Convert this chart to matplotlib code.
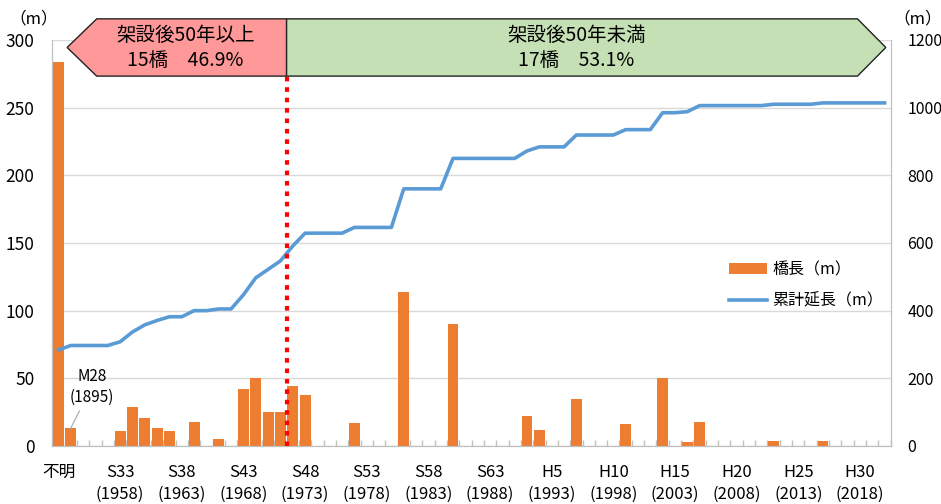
import matplotlib
matplotlib.use('Agg')
import matplotlib.pyplot as plt
import matplotlib.transforms as mtransforms
from matplotlib.patches import Polygon, Patch
from matplotlib.lines import Line2D
import numpy as np

plt.rcParams['font.family'] = ['Noto Sans CJK JP', 'DejaVu Sans']

# categories: 不明, M28, then 1955 .. 2020
years = list(range(1955, 2021))
categories = ['不明', 'M28'] + [str(y) for y in years]

# bridge length (m) per year of construction, years not listed are 0
unknown_len = 284
m28_len = 13
len_by_year = {
    1958: 11, 1959: 29, 1960: 21, 1961: 13, 1962: 11, 1964: 18, 1966: 5,
    1968: 42, 1969: 50, 1970: 25, 1971: 25, 1972: 44, 1973: 38, 1977: 17,
    1981: 114, 1985: 90, 1991: 22, 1992: 12, 1995: 35, 1999: 16, 2002: 50,
    2004: 3, 2005: 18, 2011: 4, 2015: 4,
}
lengths = np.array([unknown_len, m28_len] + [len_by_year.get(y, 0) for y in years])
cumulative = np.cumsum(lengths)

tick_years = [1958, 1963, 1968, 1973, 1978, 1983, 1988, 1993, 1998, 2003, 2008, 2013, 2018]
tick_era = ['S33', 'S38', 'S43', 'S48', 'S53', 'S58', 'S63', 'H5', 'H10', 'H15', 'H20', 'H25', 'H30']

split_year = 1972  # 架設後50年未満 starts here
old_text = ['架設後50年以上', '15橋　46.9%']
new_text = ['架設後50年未満', '17橋　53.1%']

x = np.arange(len(categories))

fig = plt.figure(figsize=(9.41, 5.04), dpi=100)
ax = fig.add_axes([0.0556, 0.1151, 0.891, 0.8056])
ax2 = ax.twinx()

ax.bar(x, lengths, width=0.88, color='#ED7D31', zorder=2)
ax2.plot(x, cumulative, color='#5B9BD5', lw=2.6, solid_joinstyle='round', zorder=3)

ax.set_xlim(-0.5, len(categories) - 0.5)
ax.set_ylim(0, 300)
ax2.set_ylim(0, 1200)
ax.set_yticks(np.arange(0, 301, 50))
ax2.set_yticks(np.arange(0, 1201, 200))
ax.grid(axis='y', color='#D9D9D9', lw=1.0, zorder=0)
ax.set_axisbelow(True)

tick_pos = [0] + [categories.index(str(y)) for y in tick_years]
tick_lab = ['不明'] + [f'{e}\n({y})' for e, y in zip(tick_era, tick_years)]
ax.set_xticks(tick_pos)
ax.set_xticklabels(tick_lab, fontsize=12, linespacing=1.35)
ax.set_xticks(np.arange(-0.5, len(categories), 1), minor=True)
ax.tick_params(axis='x', which='major', length=0, pad=13)
ax.tick_params(axis='x', which='minor', direction='in', length=4, color='#BFBFBF', width=1)
ax.tick_params(axis='y', length=0, labelsize=12.5, pad=13)
ax2.tick_params(axis='y', length=0, labelsize=11.5, pad=12)

for a in (ax, ax2):
    a.spines['top'].set_visible(False)
    a.spines['left'].set_color('#BFBFBF')
    a.spines['right'].set_color('#BFBFBF')
    a.spines['bottom'].set_color('#BFBFBF')

fig.text(0.036, 0.963, '（m）', fontsize=12, ha='center', va='center')
fig.text(0.975, 0.963, '（m）', fontsize=12, ha='center', va='center')

# 50-year split line and banners
split_x = categories.index(str(split_year)) - 0.5
ax2.axvline(split_x, ymin=0, ymax=0.912, color='red', lw=3,
            linestyle=(0, (1.1, 1.4)), zorder=4)

trans = mtransforms.blended_transform_factory(ax.transData, ax.transAxes)
y_top, y_bot = 1.052, 0.911
y_mid = (y_top + y_bot) / 2
red = Polygon([(0.7, y_mid), (3.1, y_top), (split_x, y_top), (split_x, y_bot), (3.1, y_bot)],
              closed=True, facecolor='#FF9999', edgecolor='#222222', lw=1.0,
              transform=trans, clip_on=False, zorder=5)
green = Polygon([(split_x, y_top), (64.8, y_top), (67.1, y_mid), (64.8, y_bot), (split_x, y_bot)],
                closed=True, facecolor='#C5E0B4', edgecolor='#222222', lw=1.0,
                transform=trans, clip_on=False, zorder=5)
ax2.add_patch(red)
ax2.add_patch(green)
for cx, lines in ((10.3, old_text), (42.0, new_text)):
    ax2.text(cx, 1.012, lines[0], transform=trans, ha='center', va='center', fontsize=14, zorder=6)
    ax2.text(cx, 0.950, lines[1], transform=trans, ha='center', va='center', fontsize=14, zorder=6)

# M28 note
ax.annotate('M28\n(1895)', xy=(0.95, 12.5), xytext=(2.7, 43.5), textcoords='data',
            ha='center', va='center', fontsize=11, linespacing=1.25,
            arrowprops=dict(arrowstyle='-', color='#A6A6A6', lw=0.8, shrinkA=2, shrinkB=0),
            zorder=6)

handles = [Patch(facecolor='#ED7D31'), Line2D([0], [0], color='#5B9BD5', lw=2.6)]
ax2.legend(handles, ['橋長（m）', '累計延長（m）'], loc='center left',
           bbox_to_anchor=(0.79, 0.395), frameon=False, fontsize=11.5,
           handlelength=2.4, handletextpad=0.3, labelspacing=0.9)

fig.savefig('out.png', dpi=100)
